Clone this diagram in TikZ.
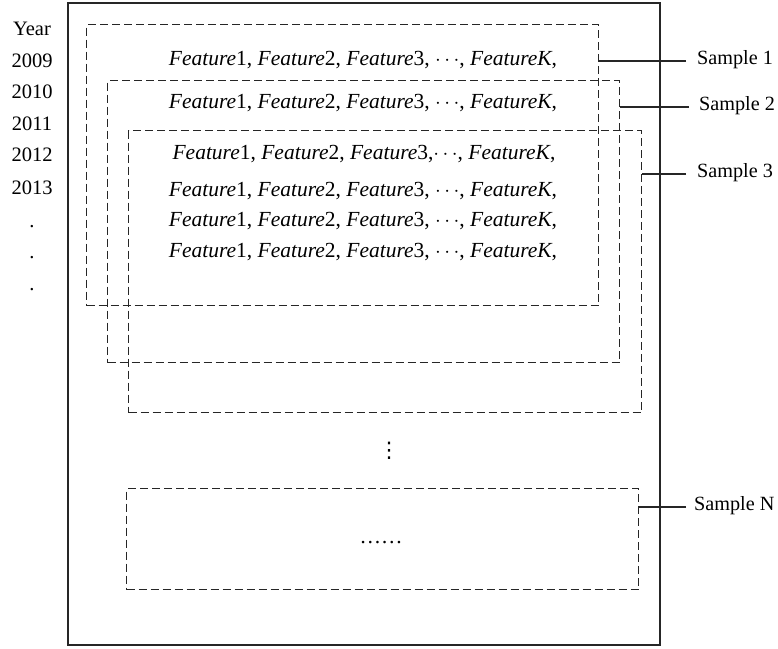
\documentclass[tikz,border=0pt]{standalone}
\usepackage{fontspec}
\setmainfont{Liberation Serif}
\newfontfamily\dejavu{DejaVu Sans}
\begin{document}
\begin{tikzpicture}[x=1pt,y=-1pt,
  sbox/.style={draw=black!85, line width=1.1pt, dash pattern=on 8pt off 4pt, inner sep=0pt, anchor=north west},
  frame/.style={draw=black!85, line width=1.5pt, inner sep=0pt, anchor=north west},
  txt/.style={inner sep=0pt, font=\fontsize{20.5}{24}\selectfont},
  row/.style={inner sep=0pt, font=\fontsize{21.5}{25}\selectfont},
  lbl/.style={inner sep=0pt, font=\fontsize{20.2}{24}\selectfont, anchor=west},
  conn/.style={draw=black!85, line width=1.1pt}]
\useasboundingbox (0,0) rectangle (778,648);
% outer frame
\node[frame, minimum width=592pt, minimum height=642pt] (outer) at (67,2) {};
% sample boxes
\node[sbox, minimum width=512pt, minimum height=281pt] (b1) at (86,24) {};
\node[sbox, minimum width=512pt, minimum height=282pt] (b2) at (107,80) {};
\node[sbox, minimum width=513pt, minimum height=282pt] (b3) at (128,130) {};
\node[sbox, minimum width=512pt, minimum height=101pt] (bn) at (126,488) {};
% years
\node[txt] (year) at (32,29) {Year};
\node[txt] (y09) at (32,61) {2009};
\node[txt] (y10) at (32,92) {2010};
\node[txt] (y11) at (32,124) {2011};
\node[txt] (y12) at (32,155) {2012};
\node[txt] (y13) at (32,188) {2013};
\node[txt] (d1) at (32,227) {.};
\node[txt] (d2) at (32,258) {.};
\node[txt] (d3) at (32,290) {.};
% feature rows
\node[row] (r1) at (363,60) {\textit{Feature}1, \textit{Feature}2, \textit{Feature}3, $\cdots$, \textit{FeatureK},};
\node[row] (r2) at (363,103) {\textit{Feature}1, \textit{Feature}2, \textit{Feature}3, $\cdots$, \textit{FeatureK},};
\node[row] (r3) at (364,154) {\textit{Feature}1, \textit{Feature}2, \textit{Feature}3,$\cdots$, \textit{FeatureK},};
\node[row] (r4) at (363,191) {\textit{Feature}1, \textit{Feature}2, \textit{Feature}3, $\cdots$, \textit{FeatureK},};
\node[row] (r5) at (363,221) {\textit{Feature}1, \textit{Feature}2, \textit{Feature}3, $\cdots$, \textit{FeatureK},};
\node[row] (r6) at (363,252) {\textit{Feature}1, \textit{Feature}2, \textit{Feature}3, $\cdots$, \textit{FeatureK},};
% ellipses
\node[row] (vd) at (389,451) {\dejavu ⋮};
\node[row] (hd) at (381,543) {\ldots\ldots};
% labels
\node[lbl] (s1) at (697,60) {Sample 1};
\node[lbl] (s2) at (699,106) {Sample 2};
\node[lbl] (s3) at (697,173) {Sample 3};
\node[lbl] (sn) at (694,506) {Sample N};
\coordinate (c1) at (686,61);
\coordinate (c2) at (689,107);
\coordinate (c3) at (686,174);
\coordinate (cn) at (686,507);
\draw[conn] (c1) -- (c1 -| b1.east);
\draw[conn] (c2) -- (c2 -| b2.east);
\draw[conn] (c3) -- (c3 -| b3.east);
\draw[conn] (cn) -- (cn -| bn.east);
\end{tikzpicture}
\end{document}
